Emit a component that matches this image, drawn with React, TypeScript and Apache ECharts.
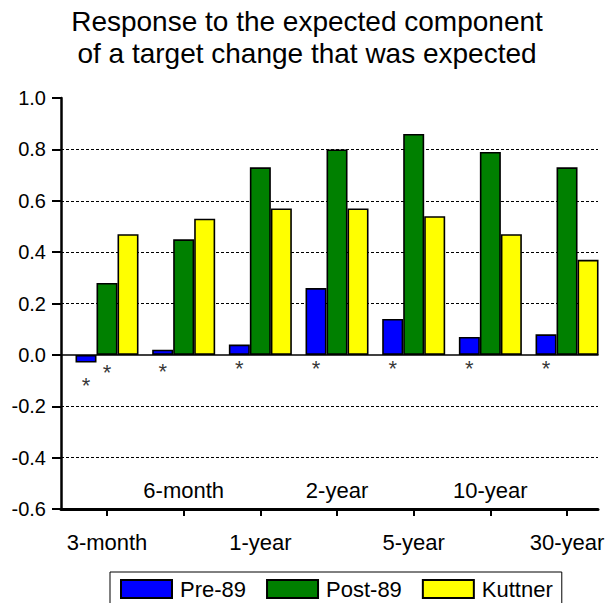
import React, { useEffect, useRef } from "react";
import * as echarts from "echarts";

const categories = ["3-month", "6-month", "1-year", "2-year", "5-year", "10-year", "30-year"];
const pre89 = [-0.03, 0.02, 0.04, 0.26, 0.14, 0.07, 0.08];
const post89 = [0.28, 0.45, 0.73, 0.8, 0.86, 0.79, 0.73];
const kuttner = [0.47, 0.53, 0.57, 0.57, 0.54, 0.47, 0.37];
// significance asterisks (y position in data units)
const starPre = [-0.118, -0.064, -0.054, -0.054, -0.054, -0.054, -0.054];
const starPost: (number | null)[] = [-0.068, null, null, null, null, null, null];
const yMin = -0.6;
const yMax = 1.0;
const yStep = 0.2;

const FONT = "'Liberation Sans', Arial, Helvetica, sans-serif";

export default function App() {
  const ref = useRef<HTMLDivElement>(null);
  useEffect(() => {
    if (!ref.current) return;
    const chart = echarts.init(ref.current, undefined, { renderer: "svg" });
    const gridTop = 98;
    const gridHeight = 411;
    const barBorder = { borderColor: "#000", borderWidth: 1.6 };
    const starLabel = (dx: number) => ({
      show: true,
      formatter: "*",
      position: "inside" as const,
      offset: [dx, 0],
      color: "#000",
      fontSize: 22,
      fontFamily: FONT,
    });
    chart.setOption({
      animation: false,
      backgroundColor: "#fff",
      textStyle: { fontFamily: FONT },
      title: {
        text: "Response to the expected component\nof a target change that was expected",
        left: "center",
        top: 0,
        textStyle: { fontSize: 28, fontWeight: "normal", color: "#000", lineHeight: 32, fontFamily: FONT },
      },
      legend: {
        data: ["Pre-89", "Post-89", "Kuttner"],
        left: 110,
        top: 572,
        icon: "rect",
        itemWidth: 51,
        itemHeight: 18,
        itemGap: 20,
        padding: [6, 9, 5, 10],
        borderColor: "#000",
        borderWidth: 1,
        textStyle: { fontSize: 22, color: "#000", lineHeight: 18, padding: [0, 0, 0, 3], fontFamily: FONT },
      },
      grid: [
        { left: 68.67, top: gridTop, width: 536.7, height: gridHeight },
        { left: 61, top: gridTop, width: 537, height: gridHeight },
      ],
      xAxis: [
        {
          gridIndex: 0,
          type: "category",
          data: categories,
          position: "bottom",
          axisLine: { show: false, onZero: false },
          axisTick: { show: true, alignWithLabel: true, interval: 0, length: 7, lineStyle: { color: "#000", width: 2 } },
          axisLabel: {
            interval: (i: number) => i % 2 === 0,
            margin: 22,
            fontSize: 22,
            color: "#000",
            fontFamily: FONT,
          },
          splitLine: { show: false },
        },
        {
          gridIndex: 0,
          type: "category",
          data: categories,
          position: "bottom",
          axisLine: { show: false, onZero: false },
          axisTick: { show: false },
          axisLabel: {
            inside: true,
            interval: (i: number) => i % 2 === 1,
            margin: 8,
            fontSize: 22,
            color: "#000",
            fontFamily: FONT,
          },
          splitLine: { show: false },
        },
        {
          gridIndex: 1,
          type: "value",
          min: 0,
          max: 1,
          axisLine: { show: true, onZero: true, lineStyle: { color: "#000", width: 1.5 } },
          axisTick: { show: false },
          axisLabel: { show: false },
          splitLine: { show: false },
        },
        {
          gridIndex: 1,
          type: "value",
          min: 0,
          max: 1,
          position: "bottom",
          axisLine: { show: true, onZero: false, lineStyle: { color: "#000", width: 3 } },
          axisTick: { show: false },
          axisLabel: { show: false },
          splitLine: { show: false },
        },
      ],
      yAxis: [
        { gridIndex: 0, type: "value", min: yMin, max: yMax, interval: yStep, show: false },
        {
          gridIndex: 1,
          type: "value",
          min: yMin,
          max: yMax,
          interval: yStep,
          axisLine: { show: true, lineStyle: { color: "#000", width: 2.5 } },
          axisTick: { show: true, length: 9, lineStyle: { color: "#000", width: 2 } },
          axisLabel: {
            margin: 15,
            fontSize: 20,
            color: "#000",
            fontFamily: FONT,
            formatter: (v: number) => v.toFixed(1),
          },
          splitLine: {
            show: true,
            lineStyle: {
              type: [3, 2],
              width: 1,
              color: [
                "rgba(0,0,0,0)",
                "#000",
                "#000",
                "rgba(0,0,0,0)",
                "#000",
                "#000",
                "#000",
                "#000",
                "rgba(0,0,0,0)",
              ],
            },
          },
        },
      ],
      series: [
        {
          name: "Pre-89",
          type: "bar",
          xAxisIndex: 0,
          yAxisIndex: 0,
          data: pre89,
          barWidth: 21,
          barGap: "0%",
          itemStyle: { color: "#0000FF", ...barBorder },
          z: 3,
        },
        {
          name: "Post-89",
          type: "bar",
          xAxisIndex: 0,
          yAxisIndex: 0,
          data: post89,
          barWidth: 21,
          barGap: "0%",
          itemStyle: { color: "#008000", ...barBorder },
          z: 3,
        },
        {
          name: "Kuttner",
          type: "bar",
          xAxisIndex: 0,
          yAxisIndex: 0,
          data: kuttner,
          barWidth: 21,
          barGap: "0%",
          itemStyle: { color: "#FFFF00", ...barBorder },
          z: 3,
        },
        {
          name: "sigPre",
          type: "scatter",
          xAxisIndex: 0,
          yAxisIndex: 0,
          data: starPre.map((v, i) => [categories[i], v]),
          symbol: "circle",
          symbolSize: 1,
          itemStyle: { color: "rgba(0,0,0,0)" },
          label: starLabel(-21),
          silent: true,
          z: 5,
        },
        {
          name: "sigPost",
          type: "scatter",
          xAxisIndex: 0,
          yAxisIndex: 0,
          data: starPost
            .map((v, i) => (v === null ? null : [categories[i], v]))
            .filter((d) => d !== null),
          symbol: "circle",
          symbolSize: 1,
          itemStyle: { color: "rgba(0,0,0,0)" },
          label: starLabel(0),
          silent: true,
          z: 5,
        },
      ],
    });
    return () => chart.dispose();
  }, []);
  return (
    <div
      ref={ref}
      style={{ position: "fixed", left: 0, top: 0, width: 614, height: 603, background: "#fff" }}
    />
  );
}
